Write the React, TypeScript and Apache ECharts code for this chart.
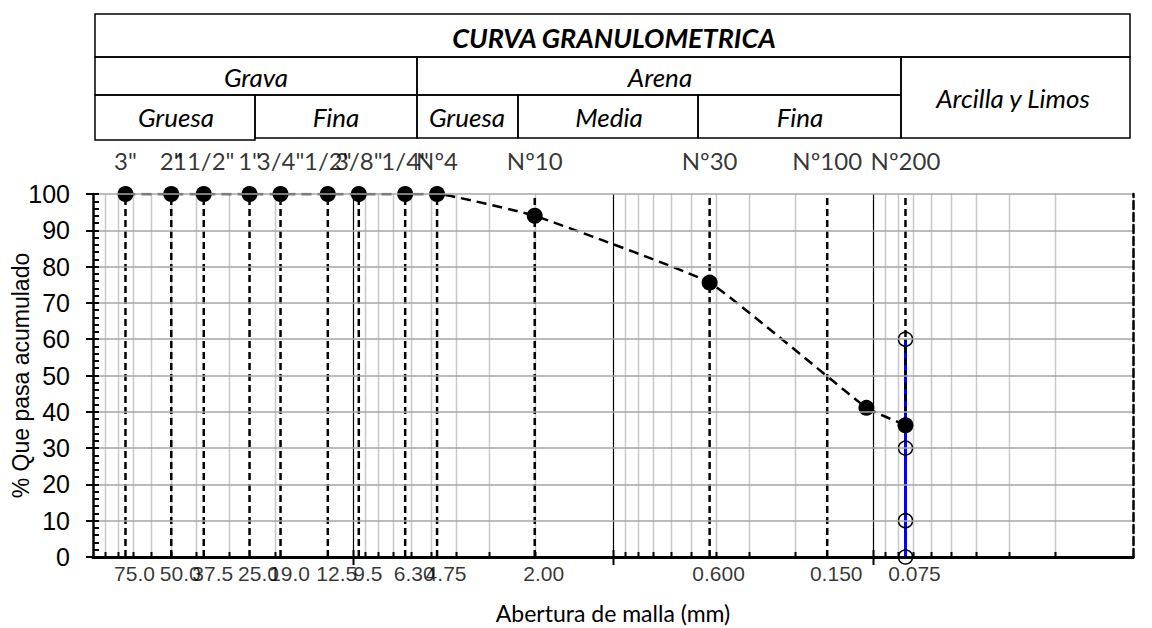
import React, { useEffect, useRef } from "react";
import * as echarts from "echarts";

// ---- data ----
// positions of the sieves on the log axis (mm), as plotted in the reference
const sieveSizes = [75, 50, 37.5, 25, 19, 12.5, 9.5, 6.3, 4.75, 2.0, 0.425, 0.15, 0.075];
const sieveNames = ['3"', '2"', '11/2"', '1"', '3/4"', '1/2"', '3/8"', '1/4"', "Nº4", "Nº10", "Nº30", "Nº100", "Nº200"];
const sieveLabels = ["75.0", "50.0", "37.5", "25.0", "19.0", "12.5", "9.5", "6.30", "4.75", "2.00", "0.600", "0.150", "0.075"];
const curveSizes = [75, 50, 37.5, 25, 19, 12.5, 9.5, 6.3, 4.75, 2.0, 0.425, 0.106, 0.075];
const curvePassing = [100, 100, 100, 100, 100, 100, 100, 100, 100, 94, 75.6, 41.1, 36.3];
const finesSize = 0.075;
const finesMarks = [0, 10, 30, 60];
const decades = [0.01, 0.1, 1, 10];
const yTicks = { min: 0, max: 100, step: 10 };

const headerTitle = "CURVA GRANULOMETRICA";
const xName = "Abertura de malla (mm)";
const yName = "% Que pasa acumulado";

export default function App() {
  const ref = useRef<HTMLDivElement>(null);

  useEffect(() => {
    if (!ref.current) return;
    const chart = echarts.init(ref.current, undefined, { renderer: "svg" });

    // vertical grid lines of the log axis: minors (2..9) and decade lines
    const gridLines: number[][] = [];
    decades.forEach((d) => {
      for (let m = 2; m <= 9; m++) gridLines.push([m * d, 0]);
      if (d > 0.01) gridLines.push([d, 1]);
    });

    const lastFines = curvePassing[curvePassing.length - 1];

    const F_LATO = "Lato";
    const F_ARIAL = "Liberation Sans";

    const hdr = (x: number, y: number, w: number, h: number) => ({
      type: "rect",
      shape: { x, y, width: w, height: h },
      style: { fill: "none", stroke: "#000", lineWidth: 1.5 },
      silent: true,
    });
    const htxt = (text: string, x: number, y: number, bold = false, size = 26) => ({
      type: "text",
      x,
      y,
      silent: true,
      style: {
        text,
        fill: "#000",
        fontFamily: F_LATO,
        fontStyle: "italic",
        fontWeight: bold ? "bold" : "normal",
        fontSize: size,
        align: "center",
        verticalAlign: "middle",
      },
    });

    const option: any = {
      animation: false,
      grid: { left: 93, right: 19, top: 194, bottom: 71, containLabel: false, outerBoundsMode: "none" },
      xAxis: [
        {
          type: "log",
          logBase: 10,
          min: 0.01,
          max: 100,
          inverse: true,
          position: "bottom",
          axisLine: { show: true, lineStyle: { color: "#000", width: 3 } },
          axisTick: { show: false },
          axisLabel: { show: false },
          splitLine: { show: false },
          name: xName,
          nameLocation: "middle",
          nameGap: 44,
          nameMoveOverlap: false,
          nameTextStyle: { fontFamily: F_LATO, fontSize: 23, color: "#000" },
          z: 10,
        },
        {
          type: "value",
          min: 0,
          max: 1,
          position: "top",
          axisLine: { show: true, lineStyle: { color: "#000", width: 2.5, type: [8, 4] } },
          axisTick: { show: false },
          axisLabel: { show: false },
          splitLine: { show: false },
          z: 10,
        },
      ],
      yAxis: [
        {
          type: "value",
          min: yTicks.min,
          max: yTicks.max,
          interval: yTicks.step,
          position: "left",
          axisLine: { show: true, lineStyle: { color: "#000", width: 2.5 } },
          axisTick: { show: true, length: 7, lineStyle: { color: "#000", width: 2 } },
          axisLabel: { fontFamily: F_ARIAL, fontSize: 25, color: "#000", margin: 23 },
          splitLine: { show: true, lineStyle: { color: "#a6a6a6", width: 1.5 } },
          name: yName,
          nameLocation: "middle",
          nameRotate: 90,
          nameGap: 61,
          nameMoveOverlap: false,
          nameTextStyle: { fontFamily: F_ARIAL, fontSize: 23, color: "#000" },
          z: 10,
        },
        {
          type: "value",
          min: 0,
          max: 100,
          interval: 2,
          position: "left",
          axisLine: { show: false },
          axisTick: { show: true, inside: true, length: 6, lineStyle: { color: "#000", width: 2 } },
          axisLabel: { show: false },
          splitLine: { show: false },
          z: 10,
        },
        {
          type: "value",
          min: 0,
          max: 1,
          position: "right",
          axisLine: { show: true, lineStyle: { color: "#000", width: 2.5, type: [8, 4] } },
          axisTick: { show: false },
          axisLabel: { show: false },
          splitLine: { show: false },
          z: 10,
        },
      ],
      graphic: [
        hdr(95, 14, 1035, 43),
        hdr(95, 57, 322, 38),
        hdr(417, 57, 484, 38),
        hdr(901, 57, 229, 81),
        hdr(95, 95, 160, 45),
        hdr(255, 95, 162, 43),
        hdr(417, 95, 101, 43),
        hdr(518, 95, 180, 43),
        hdr(698, 95, 203, 43),
        htxt(headerTitle, 614, 37, true, 27),
        htxt("Grava", 256, 77),
        htxt("Arena", 660, 77),
        htxt("Arcilla y Limos", 1013, 98),
        htxt("Gruesa", 176, 117),
        htxt("Fina", 336, 117),
        htxt("Gruesa", 467, 117),
        htxt("Media", 609, 117),
        htxt("Fina", 800, 117),
      ],
      series: [
        {
          type: "custom",
          name: "grid",
          silent: true,
          z: 1,
          clip: false,
          xAxisIndex: 0,
          yAxisIndex: 0,
          data: gridLines,
          encode: { x: 0 },
          renderItem: (params: any, api: any) => {
            const v = api.value(0);
            const kind = api.value(1);
            const p0 = api.coord([v, 0]);
            const p1 = api.coord([v, 100]);
            const x = Math.round(p0[0]) + 0.5;
            return {
              type: "group",
              children: [
                {
                  type: "line",
                  shape: { x1: x, y1: p0[1], x2: x, y2: p1[1] },
                  style: { stroke: kind === 1 ? "#000" : "#c8c8c8", lineWidth: kind === 1 ? 1.2 : 1.5 },
                },
                {
                  type: "line",
                  shape: kind === 1
                    ? { x1: x, y1: p0[1] - 7, x2: x, y2: p0[1] + 8 }
                    : { x1: x, y1: p0[1], x2: x, y2: p0[1] - 5 },
                  style: { stroke: "#000", lineWidth: 2 },
                },
              ],
            };
          },
        },
        {
          type: "custom",
          name: "sieves",
          silent: true,
          z: 2,
          clip: false,
          xAxisIndex: 0,
          yAxisIndex: 0,
          data: sieveSizes.map((s) => [s, 0]),
          encode: { x: 0 },
          renderItem: (params: any, api: any) => {
            const v = api.value(0);
            const p0 = api.coord([v, 0]);
            const p1 = api.coord([v, 100]);
            return {
              type: "line",
              shape: { x1: p0[0], y1: p0[1], x2: p0[0], y2: p1[1] },
              style: { stroke: "#000", lineWidth: 2.5, lineDash: [7, 4] },
            };
          },
        },
        {
          type: "line",
          name: "fines",
          z: 3,
          data: finesMarks.map((v) => [finesSize, v]),
          symbol: "circle",
          symbolSize: 14,
          itemStyle: { color: "rgba(0,0,0,0)", borderColor: "#000", borderWidth: 1.5 },
          lineStyle: { color: "#0000ff", width: 3 },
          silent: true,
        },
        {
          type: "line",
          name: "fines-over",
          z: 4,
          data: [
            [finesSize, lastFines],
            [finesSize, Math.max(...finesMarks)],
          ],
          symbol: "none",
          lineStyle: { color: "#000", width: 2.5, type: [7, 5] },
          silent: true,
        },
        {
          type: "line",
          name: "curva",
          z: 5,
          data: curveSizes.map((s, i) => [s, curvePassing[i]]),
          smooth: 0.1,
          symbol: "circle",
          symbolSize: 16,
          itemStyle: { color: "#000" },
          lineStyle: { color: "#000", width: 2.5, type: [10, 6] },
          silent: true,
        },
        {
          type: "scatter",
          name: "top-labels",
          z: 6,
          symbolSize: 1,
          itemStyle: { color: "rgba(0,0,0,0)" },
          data: sieveSizes.map((s, i) => ({ value: [s, 100], name: sieveNames[i] })),
          label: {
            show: true,
            position: "top",
            distance: 21,
            formatter: "{b}",
            fontFamily: F_LATO,
            fontSize: 24,
            color: "#000",
          },
          silent: true,
        },
        {
          type: "scatter",
          name: "bottom-labels",
          z: 6,
          symbolSize: 1,
          itemStyle: { color: "rgba(0,0,0,0)" },
          data: sieveSizes.map((s, i) => ({ value: [s, 0], name: sieveLabels[i] })),
          label: {
            show: true,
            position: "bottom",
            distance: 5,
            offset: [9, 0],
            formatter: "{b}",
            fontFamily: F_ARIAL,
            fontSize: 21,
            color: "#000",
          },
          silent: true,
        },
      ],
    };

    chart.setOption(option);
    return () => chart.dispose();
  }, []);

  return (
    <div
      ref={ref}
      style={{ position: "fixed", left: 0, top: 0, width: 1152, height: 628, background: "#fff" }}
    />
  );
}
